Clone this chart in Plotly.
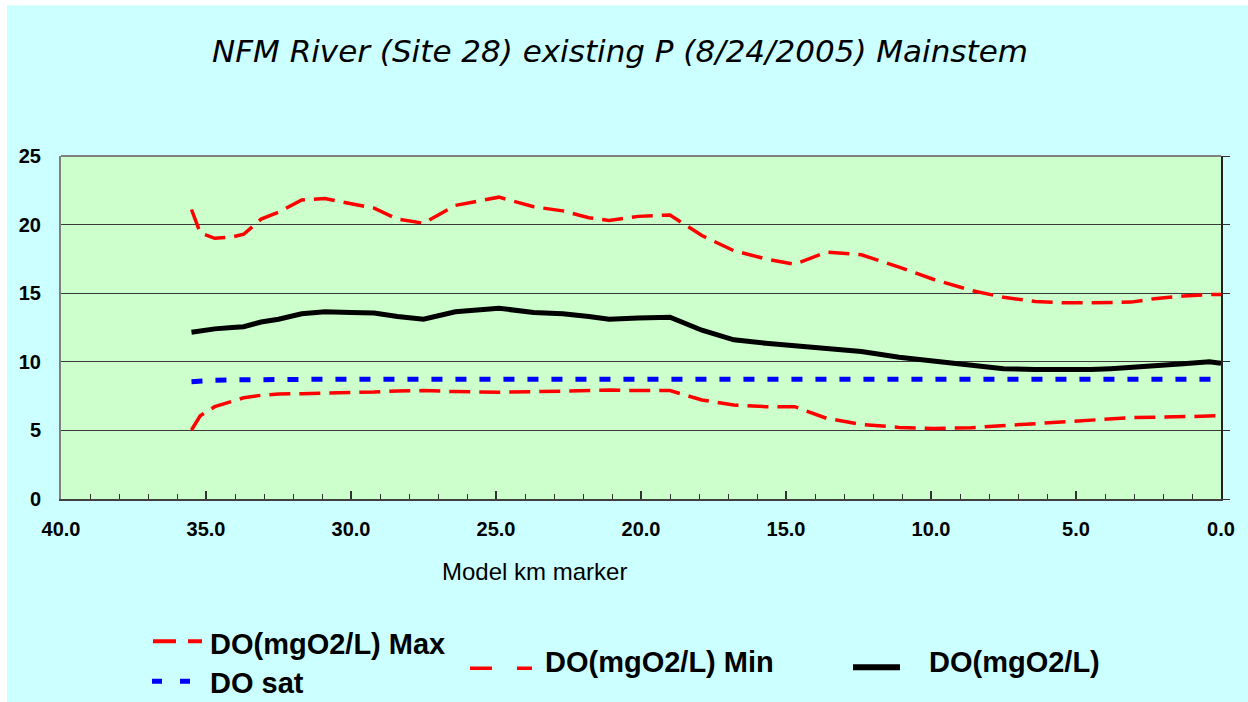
import plotly.graph_objects as go

# Model km marker (river km, upstream -> downstream)
km = [35.5, 35.2, 34.7, 34.1, 33.7, 33.1, 32.5, 31.7, 30.9, 30.0,
      29.2, 28.4, 27.5, 26.4, 24.9, 23.7, 22.7, 21.8, 21.1, 20.1,
      19.0, 17.9, 16.8, 15.7, 14.7, 13.6, 12.4, 11.1, 9.9, 8.6,
      7.5, 6.4, 5.4, 4.5, 3.8, 3.1, 2.3, 1.3, 0.4, 0.0]

do_max = [21.1, 19.4, 19.0, 19.1, 19.3, 20.4, 20.9, 21.8, 21.9, 21.5,
          21.2, 20.4, 20.1, 21.4, 22.0, 21.3, 21.0, 20.5, 20.3, 20.6,
          20.7, 19.2, 18.1, 17.5, 17.1, 18.0, 17.8, 16.9, 16.0, 15.2,
          14.7, 14.4, 14.3, 14.3, 14.3, 14.35, 14.6, 14.8, 14.9, 14.9]

do_mean = [12.15, 12.25, 12.4, 12.5, 12.56, 12.9, 13.1, 13.5, 13.65, 13.6,
           13.56, 13.3, 13.1, 13.65, 13.9, 13.6, 13.5, 13.3, 13.1, 13.2,
           13.25, 12.3, 11.6, 11.35, 11.17, 11.0, 10.75, 10.33, 10.04, 9.7,
           9.5, 9.43, 9.4, 9.43, 9.5, 9.57, 9.72, 9.85, 10.0, 9.9]

do_min = [5.03, 6.07, 6.73, 7.14, 7.38, 7.56, 7.65, 7.68, 7.7, 7.72,
          7.8, 7.88, 7.9, 7.83, 7.78, 7.82, 7.87, 7.94, 7.94, 7.9,
          7.9, 7.22, 6.85, 6.73, 6.73, 5.88, 5.44, 5.22, 5.13, 5.2,
          5.35, 5.5, 5.64, 5.76, 5.85, 5.93, 5.95, 6.02, 6.07, 6.07]

do_sat = [8.55, 8.6, 8.65, 8.68, 8.7, 8.72, 8.72, 8.72, 8.72, 8.72,
          8.72, 8.72, 8.72, 8.72, 8.72, 8.72, 8.72, 8.72, 8.72, 8.72,
          8.72, 8.72, 8.72, 8.72, 8.72, 8.72, 8.72, 8.72, 8.72, 8.72,
          8.72, 8.72, 8.72, 8.72, 8.72, 8.72, 8.72, 8.72, 8.72, 8.72]

names = ["DO(mgO2/L) Max", "DO sat", "DO(mgO2/L) Min", "DO(mgO2/L)"]
x_ticks = [40, 35, 30, 25, 20, 15, 10, 5, 0]
x_tick_text = ["40.0", "35.0", "30.0", "25.0", "20.0", "15.0", "10.0", "5.0", "0.0"]

RED = "#FF0000"
BLUE = "#0000FF"
BLACK = "#000000"
CYAN = "#CCFFFF"
PLOT_BG = "#CCFFCC"

W, H = 1248, 702
ML, MR, MT, MB = 61, 27, 156, 202.5
PW, PH = W - ML - MR, H - MT - MB


def px(x):
    return (x - ML) / PW


def py(y):
    return (H - MB - y) / PH


fig = go.Figure()
fig.add_trace(go.Scatter(x=km, y=do_max, mode="lines", name=names[0],
                         line=dict(color=RED, width=3.5, dash="21px,9px")))
fig.add_trace(go.Scatter(x=km, y=do_sat, mode="lines", name=names[1],
                         line=dict(color=BLUE, width=5, dash="11px,13px")))
fig.add_trace(go.Scatter(x=km, y=do_min, mode="lines", name=names[2],
                         line=dict(color=RED, width=3.5, dash="21px,9px")))
fig.add_trace(go.Scatter(x=km, y=do_mean, mode="lines", name=names[3],
                         line=dict(color=BLACK, width=5)))
# carrier for the right-hand tick axis
fig.add_trace(go.Scatter(x=[None], y=[None], yaxis="y2", showlegend=False,
                         hoverinfo="skip"))

tick_font = dict(family="Liberation Sans, Arial, sans-serif", size=20,
                 color="black", weight="bold")

fig.update_layout(
    width=W, height=H,
    margin=dict(l=ML, r=MR, t=MT, b=MB),
    paper_bgcolor="white",
    plot_bgcolor=PLOT_BG,
    showlegend=False,
    title=dict(text="<i>NFM River (Site 28) existing P (8/24/2005) Mainstem</i>",
               font=dict(family="DejaVu Sans, Verdana, sans-serif", size=31, color="black"),
               x=620 / W, xanchor="center", y=1 - 51 / H, yanchor="middle"),
    xaxis=dict(range=[40, 0], tickvals=x_ticks, ticktext=x_tick_text,
               ticks="inside", ticklen=8, tickwidth=1.5, tickcolor="#333333",
               minor=dict(dtick=1, ticks="inside", ticklen=5, tickwidth=1, tickcolor="#333333"),
               showgrid=False, zeroline=False,
               showline=True, linecolor="#404040", linewidth=2,
               tickfont=tick_font, ticklabelstandoff=11),
    yaxis=dict(range=[0, 25], dtick=5, ticks="", showgrid=True,
               gridcolor="#3a3a3a", gridwidth=1, zeroline=False,
               showline=True, linecolor="#808080", linewidth=2,
               tickfont=tick_font, ticklabelstandoff=14),
    yaxis2=dict(range=[0, 25], dtick=5, overlaying="y", side="right",
                ticks="outside", ticklen=7, tickcolor="#333333",
                showticklabels=False, showgrid=False, zeroline=False,
                showline=True, linecolor="#222222", linewidth=1.5),
)

shapes = [
    # chart area background (white strip left/top)
    dict(type="rect", xref="paper", yref="paper", layer="below",
         x0=px(7), x1=px(W + 5), y0=py(H + 5), y1=py(5),
         fillcolor=CYAN, line=dict(width=0)),
    # plot area fill
    dict(type="rect", xref="paper", yref="paper", layer="below",
         x0=0, x1=1, y0=0, y1=1, fillcolor=PLOT_BG, line=dict(width=0)),
    # top border of the plot area
    dict(type="line", xref="paper", yref="paper", x0=0, x1=1, y0=1, y1=1,
         line=dict(color="#808080", width=2)),
]

legend_font = dict(family="Liberation Sans, Arial, sans-serif", size=29,
                   color="black", weight="bold")
# legend: (label, text x, text y, sample x0, sample x1, sample y, colour, width, dash)
legend_items = [
    (names[0], 208, 645, 153, 202, 642, RED, 4, "23px,12px"),
    (names[1], 208, 684, 152, 190, 682, BLUE, 5, "10px,18px"),
    (names[2], 543, 663, 470, 532, 669, RED, 3.5, "22px,25px"),
    (names[3], 927, 663, 853, 900, 668, BLACK, 6, None),
]
annotations = [
    dict(text="Model km marker", xref="paper", yref="paper",
         x=px(534), y=py(572), xanchor="center", yanchor="middle", showarrow=False,
         font=dict(family="Liberation Sans, Arial, sans-serif", size=24, color="black")),
]
for label, tx, ty, sx0, sx1, sy, col, wd, dsh in legend_items:
    ln = dict(color=col, width=wd)
    if dsh:
        ln["dash"] = dsh
    shapes.append(dict(type="line", xref="paper", yref="paper",
                       x0=px(sx0), x1=px(sx1), y0=py(sy), y1=py(sy), line=ln))
    annotations.append(dict(text=label, xref="paper", yref="paper",
                            x=px(tx), y=py(ty), xanchor="left", yanchor="middle",
                            showarrow=False, font=legend_font))

fig.update_layout(shapes=shapes, annotations=annotations)

fig.write_html("out.html")
